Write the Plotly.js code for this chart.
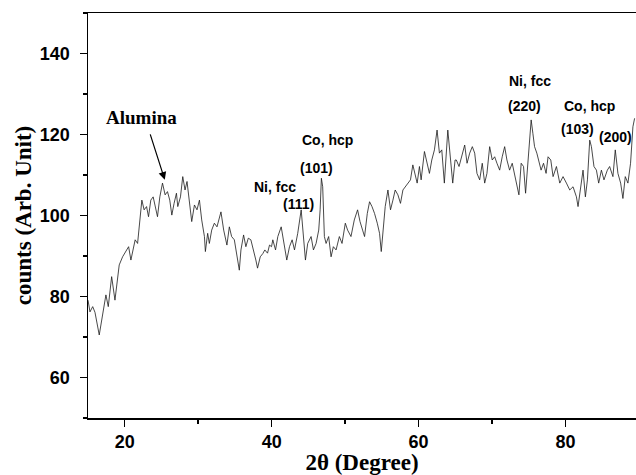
<!DOCTYPE html>
<html>
<head>
<meta charset="utf-8">
<script src="https://cdn.plot.ly/plotly-3.0.1.min.js"></script>
<style>html,body{margin:0;padding:0;background:#fff;}#chart{width:636px;height:475px;}</style>
</head>
<body>
<div id="chart"></div>
<script>
var twoTheta = [15.0,15.27,15.64,15.95,16.53,17.08,17.44,17.76,18.22,18.67,19.25,19.71,20.16,20.53,20.84,21.15,21.42,21.75,22.06,22.33,22.64,22.97,23.24,23.55,23.87,24.14,24.46,24.78,25.14,25.50,25.82,26.13,26.41,26.72,27.04,27.22,27.59,27.90,28.21,28.48,28.81,29.12,29.49,29.84,30.17,30.48,30.85,30.98,31.29,31.52,31.84,32.20,32.56,32.88,33.10,33.47,33.91,34.24,34.55,34.92,35.27,35.60,35.82,36.18,36.49,36.82,37.17,37.54,37.85,38.08,38.45,38.80,39.07,39.44,39.71,39.98,40.16,40.53,40.84,41.30,41.75,42.06,42.43,42.79,43.11,43.55,44.02,44.33,44.60,44.91,45.37,45.69,46.05,46.41,46.60,46.77,46.95,47.18,47.41,47.76,48.09,48.40,48.77,49.22,49.58,50.03,50.34,50.80,51.25,51.70,52.03,52.38,52.65,53.02,53.33,53.66,54.01,54.38,54.69,54.92,55.46,55.83,56.18,56.51,56.82,57.19,57.54,57.87,58.18,58.54,58.90,59.22,59.54,59.81,60.12,60.35,60.80,61.17,61.48,61.80,62.16,62.52,62.84,63.16,63.51,63.98,64.33,64.65,64.97,65.14,65.51,65.82,66.28,66.60,66.96,67.32,67.64,67.95,68.32,68.67,69.00,69.31,69.68,70.03,70.36,70.67,71.04,71.39,71.72,72.03,72.39,72.75,73.07,73.38,73.66,73.97,74.29,74.57,74.88,75.11,75.33,75.56,75.79,76.10,76.37,76.68,77.01,77.36,77.63,78.00,78.31,78.77,79.22,79.67,80.13,80.58,81.03,81.49,81.71,82.07,82.39,82.71,82.99,83.30,83.53,83.88,84.21,84.52,84.89,85.24,85.70,86.01,86.46,86.78,87.14,87.51,87.82,88.14,88.50,88.86,89.18,89.41];
var counts = [79.1,76.2,77.5,76.1,70.5,76.2,80.4,77.5,84.9,79.1,87.8,89.8,91.1,92.3,89.0,91.5,94.0,93.1,98.9,103.8,101.4,102.2,99.7,103.8,104.6,102.2,99.7,104.6,108.0,105.1,105.9,103.8,100.1,103.0,105.5,102.2,104.6,109.6,106.3,108.4,103.0,98.5,102.6,101.4,103.8,98.9,94.8,91.1,95.6,93.1,96.4,98.1,97.2,99.7,100.9,96.4,92.7,97.2,94.8,94.0,89.8,86.5,91.5,95.2,92.3,94.4,94.0,91.5,89.0,87.0,89.8,90.6,91.5,90.7,92.7,92.3,94.0,91.5,94.8,97.2,92.3,89.0,92.3,94.0,91.5,95.6,101.4,94.8,89.0,93.1,94.8,91.5,93.1,96.4,101.4,109.2,107.1,94.8,93.1,94.8,89.8,92.3,91.5,94.8,93.1,98.1,96.4,94.8,98.9,101.4,98.5,96.4,94.8,100.5,103.4,102.2,100.5,98.1,95.6,91.1,102.2,106.3,101.4,103.8,106.3,105.1,103.0,106.3,107.1,108.0,108.8,112.5,110.4,108.0,112.1,108.8,115.8,112.9,110.4,113.7,116.2,121.1,115.4,116.2,108.0,121.1,114.5,108.0,113.7,113.7,112.1,114.5,117.4,112.9,115.4,117.0,115.4,110.4,108.8,112.9,108.0,110.4,117.0,113.7,114.5,112.9,111.2,114.5,117.0,113.7,111.2,112.9,110.4,108.0,105.1,112.9,112.1,105.5,112.9,119.5,123.6,120.3,117.0,115.4,113.7,111.2,112.9,110.4,114.5,113.7,109.6,112.1,108.0,109.6,108.0,106.3,107.1,104.6,102.2,107.1,111.2,104.6,108.8,118.6,117.0,112.1,111.2,108.0,111.2,108.8,111.2,112.1,109.6,116.2,110.4,108.0,104.2,109.6,108.0,112.9,121.9,124.0];

var labelTexts = ['Ni, fcc','(111)','Co, hcp','(101)','Ni, fcc','(220)','Co, hcp','(103)','(200)'];
var labelX = [40.39,43.65,47.59,46.09,75.15,74.47,83.30,81.67,86.83];
var labelY = [107.0,102.8,118.6,111.7,133.2,127.0,127.0,121.4,119.4];

var xTickVals = [20,40,60,80];
var yTickVals = [60,80,100,120,140];

var annotations = labelTexts.map(function(t,i){
  return {x:labelX[i], y:labelY[i], xref:'x', yref:'y', text:t, showarrow:false,
          xanchor:'center', yanchor:'middle',
          font:{family:'Liberation Sans, Arial, sans-serif', size:14, color:'#000', weight:'bold'}};
});
annotations.push({x:22.33, y:124.1, xref:'x', yref:'y', text:'<b>Alumina</b>', showarrow:false,
  xanchor:'center', yanchor:'middle', font:{family:'Liberation Serif, Times New Roman, serif', size:19, color:'#000'}});
annotations.push({x:25.45, y:108.8, xref:'x', yref:'y', text:'', showarrow:true, arrowhead:2, arrowsize:1.3,
  arrowwidth:1.2, arrowcolor:'#000', ax:-15, ay:-47});

var trace = {x:twoTheta, y:counts, type:'scatter', mode:'lines',
  line:{color:'#1a1a1a', width:0.8}, hoverinfo:'skip'};

var layout = {
  width:636, height:475,
  margin:{l:88, r:0, t:13, b:57},
  paper_bgcolor:'#fff', plot_bgcolor:'#fff',
  showlegend:false,
  xaxis:{range:[15,89.6], tickvals:xTickVals, ticks:'outside', ticklen:7, tickwidth:1.5, tickcolor:'#000',
    showline:true, linecolor:'#000', linewidth:1.5, mirror:true, showgrid:false, zeroline:false,
    minor:{dtick:10, tick0:0, ticks:'outside', ticklen:4, tickwidth:1.5, tickcolor:'#000', showgrid:false},
    tickfont:{family:'Liberation Sans, Arial, sans-serif', size:18, color:'#000', weight:'bold'},
    title:{text:'<b>2θ (Degree)</b>', standoff:3, font:{family:'Liberation Serif, Times New Roman, serif', size:23, color:'#000'}}},
  yaxis:{range:[50,150], tickvals:yTickVals, ticks:'outside', ticklen:7, tickwidth:1.5, tickcolor:'#000',
    showline:true, linecolor:'#000', linewidth:1.5, showgrid:false, zeroline:false,
    ticklabelstandoff:6,
    minor:{dtick:10, tick0:0, ticks:'outside', ticklen:4, tickwidth:1.5, tickcolor:'#000', showgrid:false},
    tickfont:{family:'Liberation Sans, Arial, sans-serif', size:18, color:'#000', weight:'bold'},
    title:{text:'<b>counts (Arb. Unit)</b>', standoff:2, font:{family:'Liberation Serif, Times New Roman, serif', size:23, color:'#000'}}},
  annotations:annotations
};

Plotly.newPlot('chart', [trace], layout, {displayModeBar:false, staticPlot:true});
</script>
</body>
</html>
